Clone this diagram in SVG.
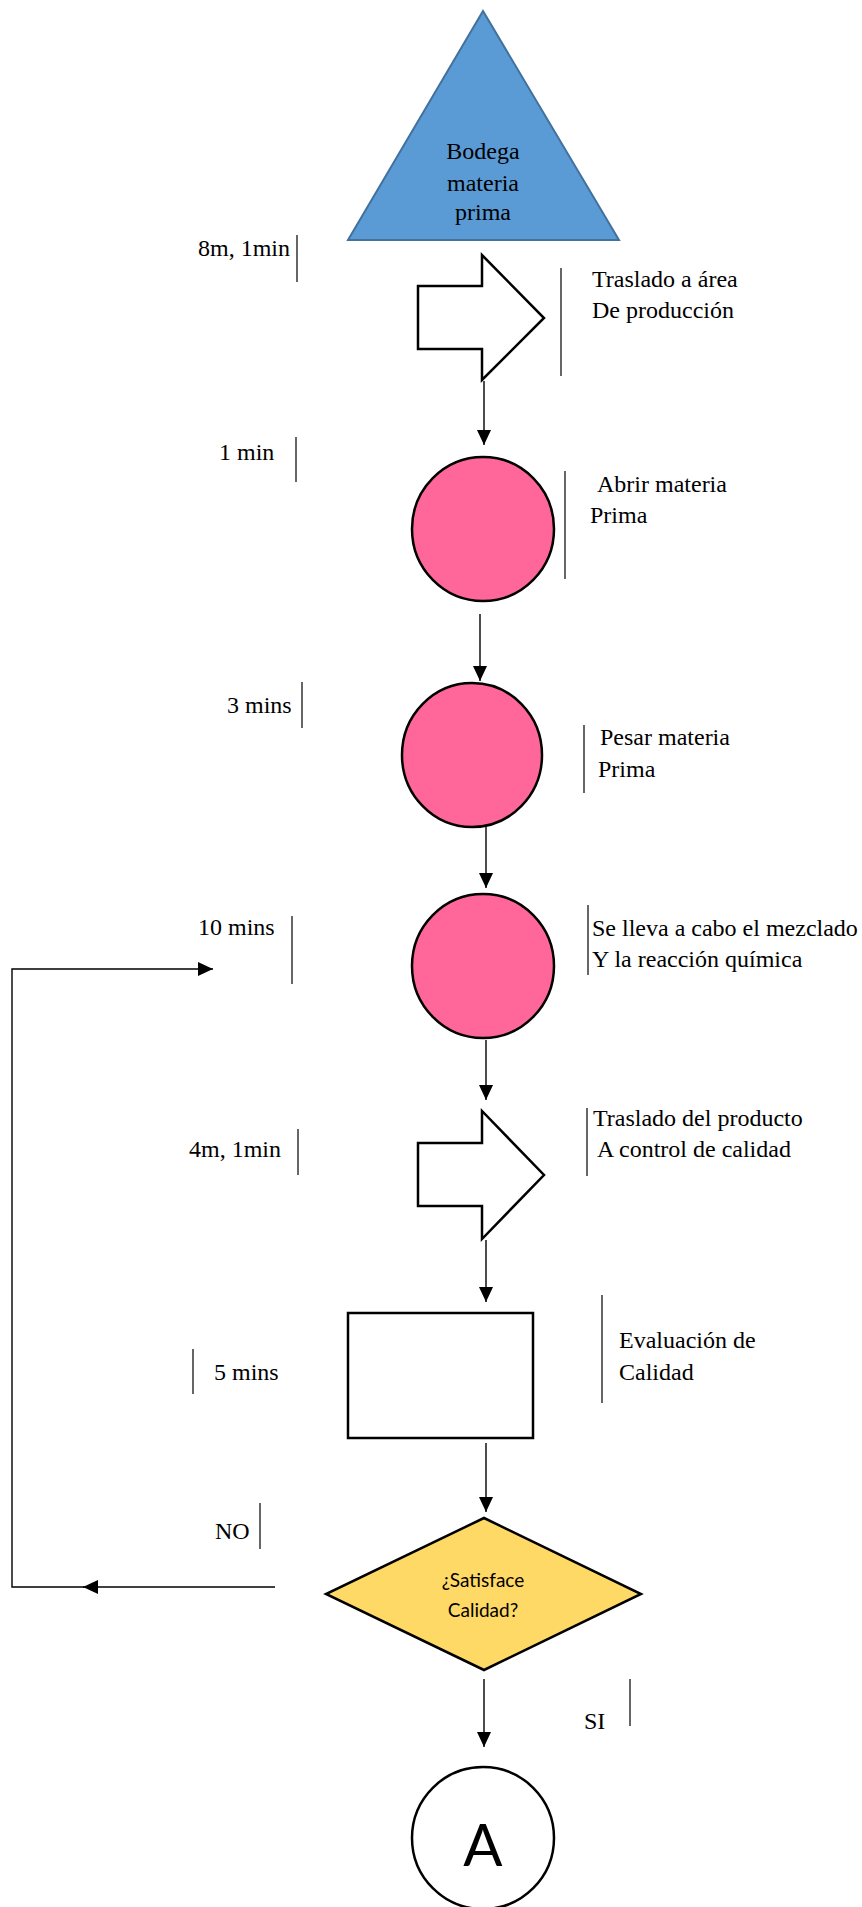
<svg xmlns="http://www.w3.org/2000/svg" width="862" height="1907" viewBox="0 0 862 1907">
<style>
.t{font-size:24px;fill:#000}
.bar{stroke:#000;stroke-width:1.2;fill:none}
.shape{stroke:#000;stroke-width:2.5}
.conn{stroke:#000;stroke-width:1.4;fill:none}
.pink{fill:#FF6699}
</style>
<defs>
<marker id="ah" viewBox="0 0 15 14" refX="15" refY="7" markerWidth="15" markerHeight="14" markerUnits="userSpaceOnUse" orient="auto">
<path d="M0,0 L15,7 L0,14 z" fill="#000"/>
</marker>
</defs>
<rect width="862" height="1907" fill="#fff"/>
<g id="connectors">
<line class="conn" x1="484" y1="381" x2="484" y2="445" marker-end="url(#ah)"/>
<line class="conn" x1="480" y1="614" x2="480" y2="681" marker-end="url(#ah)"/>
<line class="conn" x1="486" y1="822" x2="486" y2="888" marker-end="url(#ah)"/>
<line class="conn" x1="486" y1="1040" x2="486" y2="1100" marker-end="url(#ah)"/>
<line class="conn" x1="486" y1="1240" x2="486" y2="1302" marker-end="url(#ah)"/>
<line class="conn" x1="486" y1="1443" x2="486" y2="1512" marker-end="url(#ah)"/>
<line class="conn" x1="484" y1="1679" x2="484" y2="1747" marker-end="url(#ah)"/>
<line class="conn" x1="275" y1="1587" x2="83" y2="1587" marker-end="url(#ah)"/>
<polyline class="conn" points="84,1587 12,1587 12,969 213,969" marker-end="url(#ah)"/>
</g>
<g font-family="'Liberation Serif', 'Times New Roman', 'DejaVu Serif', serif">
<g id="n-bodega">
<polygon points="483,11 348,240 619,240" fill="#5B9BD5" stroke="#41719C" stroke-width="2"/>
<text class="t" x="483" y="159" text-anchor="middle">Bodega</text>
<text class="t" x="483" y="191" text-anchor="middle">materia</text>
<text class="t" x="483" y="220" text-anchor="middle">prima</text>
</g>
<g id="n-traslado1">
<polygon class="shape" fill="#fff" points="418,286 482,286 482,255 544,318 482,380 482,349 418,349"/>
<text class="t" x="198" y="256">8m, 1min</text>
<line class="bar" x1="297" y1="235" x2="297" y2="282"/>
<line class="bar" x1="561" y1="268" x2="561" y2="376"/>
<text class="t" x="592" y="287">Traslado a área</text>
<text class="t" x="592" y="318">De producción</text>
</g>
<g id="n-abrir">
<ellipse class="shape pink" cx="483" cy="529" rx="71" ry="72"/>
<text class="t" x="219" y="460">1 min</text>
<line class="bar" x1="296" y1="437" x2="296" y2="482"/>
<line class="bar" x1="565" y1="471" x2="565" y2="579"/>
<text class="t" x="597" y="492">Abrir materia</text>
<text class="t" x="590" y="523">Prima</text>
</g>
<g id="n-pesar">
<ellipse class="shape pink" cx="472" cy="755" rx="70" ry="72"/>
<text class="t" x="227" y="713">3 mins</text>
<line class="bar" x1="302" y1="682" x2="302" y2="728"/>
<line class="bar" x1="584" y1="725" x2="584" y2="793"/>
<text class="t" x="600" y="745">Pesar materia</text>
<text class="t" x="598" y="777">Prima</text>
</g>
<g id="n-mezclado">
<ellipse class="shape pink" cx="483" cy="966" rx="71" ry="72"/>
<text class="t" x="198" y="935">10 mins</text>
<line class="bar" x1="292" y1="916" x2="292" y2="984"/>
<line class="bar" x1="588" y1="905" x2="588" y2="975"/>
<text class="t" x="592" y="936">Se lleva a cabo el mezclado</text>
<text class="t" x="592" y="967">Y la reacción química</text>
</g>
<g id="n-traslado2">
<polygon class="shape" fill="#fff" points="418,1143 482,1143 482,1111 544,1175 482,1239 482,1206 418,1206"/>
<text class="t" x="189" y="1157">4m, 1min</text>
<line class="bar" x1="298" y1="1129" x2="298" y2="1175"/>
<line class="bar" x1="587" y1="1108" x2="587" y2="1176"/>
<text class="t" x="593" y="1126">Traslado del producto</text>
<text class="t" x="597" y="1157"> A control de calidad</text>
</g>
<g id="n-evaluacion">
<rect class="shape" fill="#fff" x="348" y="1313" width="185" height="125"/>
<line class="bar" x1="193" y1="1349" x2="193" y2="1394"/>
<text class="t" x="214" y="1380">5 mins</text>
<line class="bar" x1="602" y1="1295" x2="602" y2="1403"/>
<text class="t" x="619" y="1348">Evaluación de</text>
<text class="t" x="619" y="1380">Calidad</text>
</g>
<g id="n-decision">
<polygon class="shape" fill="#FFD966" points="484,1518 641,1594 484,1670 326,1594"/>
<text x="483" y="1587" text-anchor="middle" font-family="Lato,'Open Sans',sans-serif" font-size="19">¿Satisface</text>
<text x="483" y="1617" text-anchor="middle" font-family="Lato,'Open Sans',sans-serif" font-size="19">Calidad?</text>
<text class="t" x="215" y="1539">NO</text>
<line class="bar" x1="260" y1="1503" x2="260" y2="1549"/>
<text class="t" x="584" y="1729">SI</text>
<line class="bar" x1="630" y1="1679" x2="630" y2="1726"/>
</g>
</g>
<g id="n-A">
<ellipse class="shape" fill="#fff" cx="483" cy="1838" rx="71" ry="71"/>
<text x="483" y="1866" text-anchor="middle" font-family="Lato,'Open Sans',sans-serif" font-size="58">A</text>
</g>
</svg>
